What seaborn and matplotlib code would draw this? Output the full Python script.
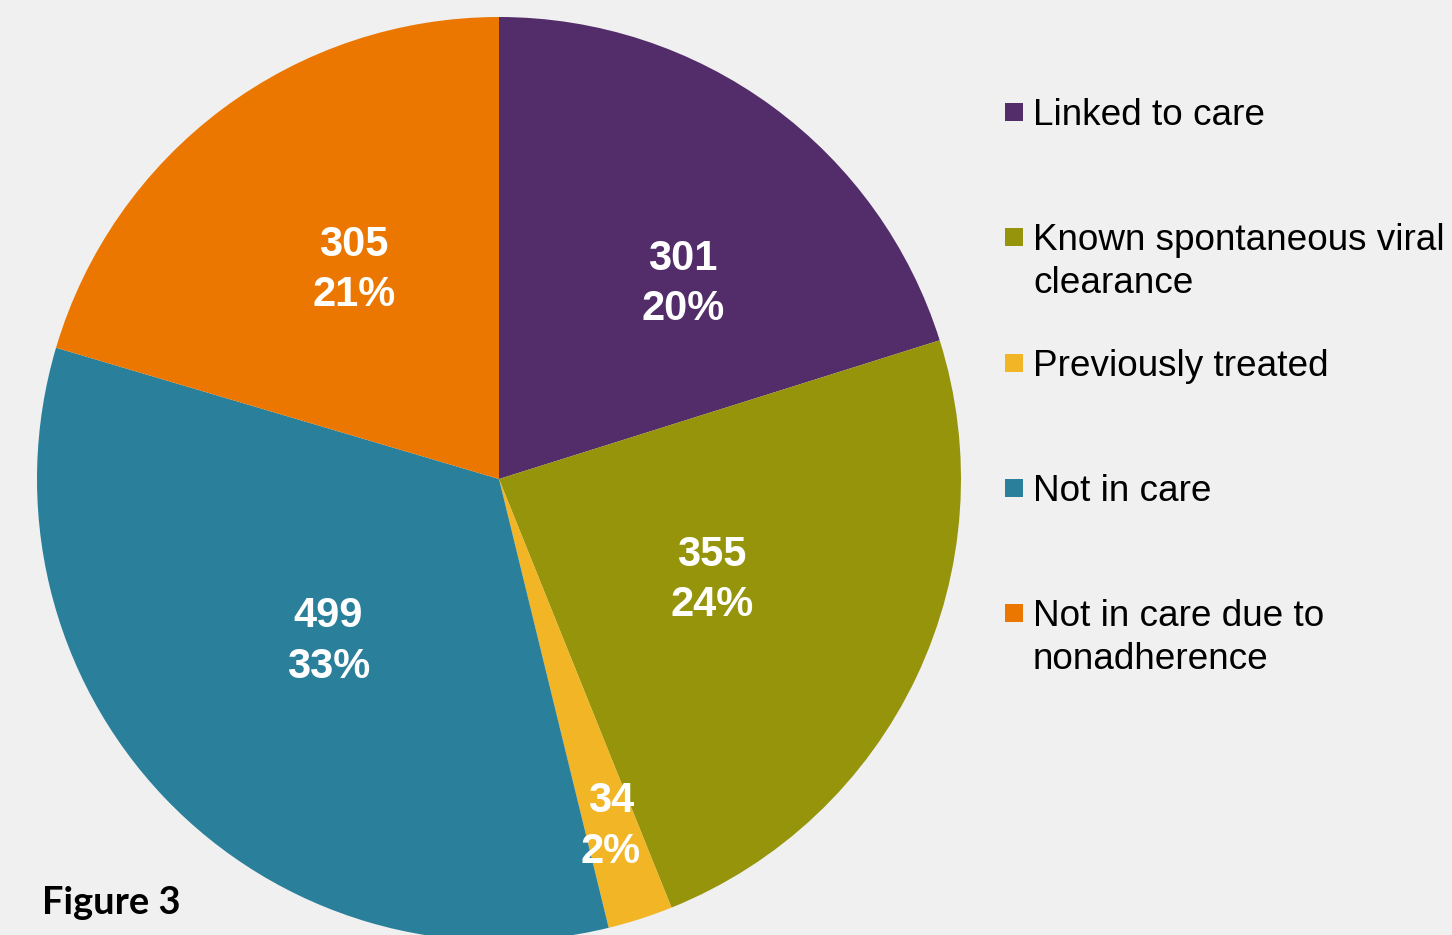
import matplotlib
matplotlib.use("Agg")
import matplotlib.pyplot as plt
import seaborn as sns
import numpy as np

categories = ["Linked to care", "Known spontaneous viral\nclearance", "Previously treated",
              "Not in care", "Not in care due to\nnonadherence"]
values = [301, 355, 34, 499, 305]
percent_labels = ["20%", "24%", "2%", "33%", "21%"]
colors = ["#532C6A", "#95940B", "#F1B526", "#2A809B", "#EB7700"]
label_radius = [0.58, 0.51, 0.79, 0.51, 0.55]
label_angle_shift = [-7, 0, 0, 0, -2]
title_text = "Figure 3"

sns.set_theme(style="white")
plt.rcParams["font.family"] = ["Liberation Sans", "DejaVu Sans"]

W, H = 1452, 935
fig = plt.figure(figsize=(W / 100, H / 100), dpi=100, facecolor="#F0F0F0")
ax = fig.add_axes([0, 0, 1, 1])
ax.set_facecolor("#F0F0F0")

cx, cy, R = 499, H - 479, 462
palette = sns.color_palette(colors)
wedges, _ = ax.pie(values, colors=palette, startangle=90, counterclock=False,
                   radius=R, center=(cx, cy), frame=True,
                   wedgeprops=dict(linewidth=0))
ax.set_xlim(0, W)
ax.set_ylim(0, H)
ax.set_aspect("equal")
ax.axis("off")

for w, v, p, rf, da in zip(wedges, values, percent_labels, label_radius, label_angle_shift):
    ang = np.deg2rad((w.theta1 + w.theta2) / 2 + da)
    x = cx + rf * R * np.cos(ang)
    y = cy + rf * R * np.sin(ang)
    ax.text(x, y, f"{v}\n{p}", ha="center", va="center", color="white",
            fontsize=30, fontweight="bold", linespacing=1.33)

# legend
leg_x_box, leg_x_text = 1005, 1033
leg_y0, leg_dy = 112, 125.3
for i, (cat, col) in enumerate(zip(categories, palette)):
    yc = leg_y0 + i * leg_dy
    fig.patches.append(plt.Rectangle((leg_x_box / W, 1 - (yc + 9) / H), 18 / W, 18 / H,
                                     transform=fig.transFigure, facecolor=col, edgecolor="none"))
    fig.text(leg_x_text / W, 1 - (yc - 14) / H, cat, ha="left", va="top",
             fontsize=26.6, color="black", linespacing=1.28)

fig.text(42 / W, 1 - 903 / H, title_text, ha="left", va="center", fontsize=27.4,
         fontweight="bold", family=["Lato", "DejaVu Sans"], color="black")

fig.savefig("out.png", dpi=100, facecolor=fig.get_facecolor())
